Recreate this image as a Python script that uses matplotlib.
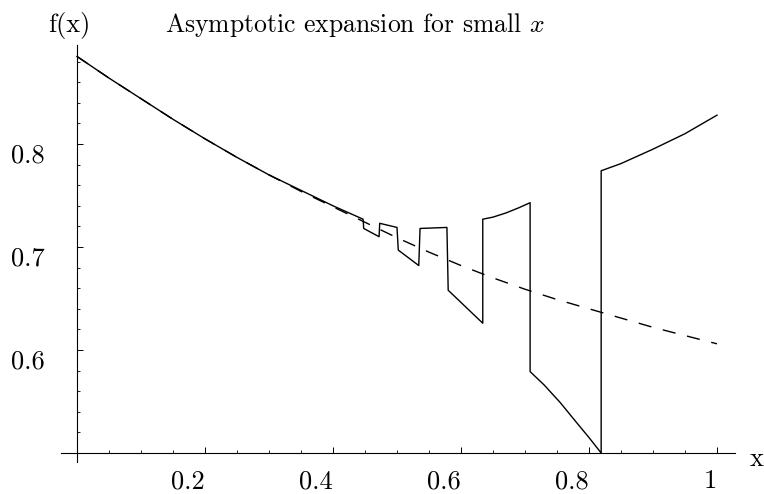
import matplotlib
matplotlib.use('Agg')
import matplotlib.pyplot as plt
import matplotlib.transforms as mtransforms
import numpy as np

# values
x_approx = [0.0, 0.05, 0.10, 0.15, 0.20, 0.25, 0.30, 0.35, 0.40, 0.45, 0.50,
            0.55, 0.60, 0.65, 0.70, 0.75, 0.80, 0.85, 0.90, 0.95, 1.0]
y_approx = [0.885, 0.864, 0.844, 0.824, 0.805, 0.787, 0.770, 0.754, 0.739, 0.724, 0.709,
            0.695, 0.682, 0.670, 0.659, 0.649, 0.640, 0.631, 0.622, 0.614, 0.606]

x_exact = [0.0, 0.05, 0.10, 0.15, 0.20, 0.25, 0.30, 0.35, 0.40, 0.447,
           0.448, 0.472, 0.473, 0.500, 0.502, 0.534, 0.536, 0.578,
           0.580, 0.634, 0.634, 0.650, 0.670, 0.690, 0.708,
           0.708, 0.730, 0.755, 0.780, 0.800, 0.819,
           0.819, 0.850, 0.900, 0.950, 1.0]
y_exact = [0.885, 0.864, 0.844, 0.824, 0.805, 0.787, 0.770, 0.755, 0.740, 0.727,
           0.718, 0.710, 0.723, 0.719, 0.697, 0.682, 0.718, 0.719,
           0.658, 0.626, 0.727, 0.729, 0.733, 0.738, 0.743,
           0.579, 0.566, 0.549, 0.530, 0.515, 0.500,
           0.774, 0.781, 0.795, 0.810, 0.828]

x_major = [0.2, 0.4, 0.6, 0.8, 1.0]
x_labels = ['0.2', '0.4', '0.6', '0.8', '1']
y_major = [0.6, 0.7, 0.8]
y_labels = ['0.6', '0.7', '0.8']

plt.rcParams['font.family'] = 'cmr10'
plt.rcParams['mathtext.fontset'] = 'cm'
plt.rcParams['axes.formatter.use_mathtext'] = True

W, H = 764, 494
fig = plt.figure(figsize=(W / 100, H / 100), dpi=100)
# axes box in pixels: x 61..735, y 45..462 (from top)
ax = fig.add_axes([61 / W, (H - 462) / H, 674 / W, 417 / H])
ax.set_xlim((61 - 77) / 640, (735 - 77) / 640)
ax.set_ylim(0.5 - 9 / 1030, 0.8 + 99 / 1030)

ax.plot(x_exact, y_exact, color='black', lw=1.0)
ax.plot(x_approx, y_approx, color='black', lw=1.0, dashes=(9.5, 8.5))

# Mathematica-style crossing axes
for s in ['top', 'right']:
    ax.spines[s].set_visible(False)
ax.spines['left'].set_position(('data', 0))
ax.spines['bottom'].set_position(('data', 0.5))
ax.spines['left'].set_linewidth(0.8)
ax.spines['bottom'].set_linewidth(0.8)

ax.set_xticks(x_major)
ax.set_xticklabels(x_labels)
ax.set_xticks(np.arange(0.05, 1.01, 0.05), minor=True)
ax.set_yticks(y_major)
ax.set_yticklabels(y_labels)
ax.set_yticks(np.arange(0.52, 0.89, 0.02), minor=True)

ax.tick_params(which='major', direction='in', length=4, width=0.7, labelsize=19)
ax.tick_params(which='minor', direction='in', length=2.2, width=0.6)
ax.tick_params(axis='x', pad=12)
ax.tick_params(axis='y', pad=23)

for lab in ax.get_xticklabels():
    lab.set_horizontalalignment('right')
for lab in ax.get_yticklabels():
    lab.set_transform(lab.get_transform() + mtransforms.ScaledTranslation(0, -9 / 100, fig.dpi_scale_trans))

fig.text(757 / W, (H - 466) / H, 'x', fontsize=19, ha='center', va='baseline')
fig.text(69 / W, (H - 32) / H, 'f(x)', fontsize=19, ha='center', va='baseline')
fig.text(355 / W, (H - 32) / H, 'Asymptotic expansion for small $x$', fontsize=18.5,
         ha='center', va='baseline')

fig.savefig('out.png', dpi=100)
